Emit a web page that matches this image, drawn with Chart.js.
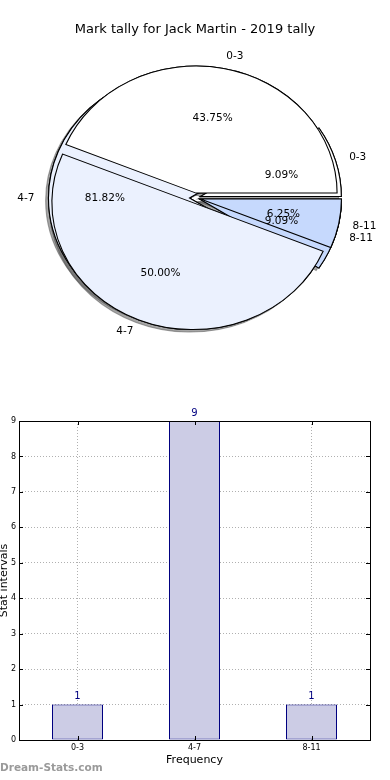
<!DOCTYPE html>
<html><head><meta charset="utf-8">
<script src="https://cdn.jsdelivr.net/npm/chart.js@4"></script>
<style>
html,body{margin:0;padding:0;background:#fff;}
#wrap{position:relative;width:390px;height:780px;overflow:hidden;font-family:"DejaVu Sans",sans-serif;}
#pie{position:absolute;left:0;top:0;}
#bar{position:absolute;left:0;top:400px;}
#title{position:absolute;left:0;top:21px;width:390px;text-align:center;font-size:13px;line-height:16px;color:#000;}
#wm{position:absolute;left:0;top:760px;font-size:10.5px;font-weight:bold;line-height:14px;color:#9a9a9a;}
</style></head><body>
<div id="wrap">
<canvas id="pie" width="390" height="396"></canvas>
<canvas id="bar" width="390" height="380"></canvas>
<div id="title">Mark tally for Jack Martin - 2019 tally</div>
<div id="wm">Dream-Stats.com</div>
</div>
<script>
// ---- data ----
const categories = ['0-3', '4-7', '8-11'];
const markPercents = [43.75, 50.00, 6.25];
const statPercents = [9.09, 81.82, 9.09];
const statCounts = [1, 9, 1];
const yTicks = [0, 1, 2, 3, 4, 5, 6, 7, 8, 9];

// ---- styles ----
const sliceColors = ['#ffffff', '#ebf1fe', '#c6d9fd'];
const FONT = '"DejaVu Sans", sans-serif';
const EXPLODE = 5;
const SX = 141 / 127;
const rev = a => a.slice().reverse();

const pieDraw = {
  id: 'pieDraw',
  beforeDatasetsDraw(chart) {
    const ctx = chart.ctx;
    const R = chart.options.radius;
    const order = [1, 0];
    const drawAll = (shadow) => {
      order.forEach(di => {
        chart.getDatasetMeta(di).data.forEach(arc => {
          arc.innerRadius = 0; arc.outerRadius = R;
          const mid = (arc.startAngle + arc.endAngle) / 2;
          ctx.save();
          ctx.translate(arc.x, arc.y); ctx.scale(SX, 1); ctx.translate(-arc.x, -arc.y);
          ctx.translate(Math.cos(mid) * EXPLODE, Math.sin(mid) * EXPLODE);
          if (shadow) {
            ctx.shadowColor = 'rgba(77,77,77,0.5)';
            ctx.shadowOffsetX = -2.8; ctx.shadowOffsetY = 2.5; ctx.shadowBlur = 0;
          }
          arc.draw(ctx);
          ctx.restore();
        });
      });
    };
    drawAll(true);
    drawAll(false);
    ctx.save();
    ctx.font = '10.5px ' + FONT;
    ctx.fillStyle = '#000';
    ctx.textBaseline = 'middle';
    order.forEach(di => {
      const ds = chart.data.datasets[di];
      chart.getDatasetMeta(di).data.forEach((arc, i) => {
        const mid = (arc.startAngle + arc.endAngle) / 2;
        const c = Math.cos(mid), s = Math.sin(mid);
        ctx.textAlign = 'center';
        ctx.fillText(ds.data[i].toFixed(2) + '%', arc.x + SX * c * (EXPLODE + 0.6 * R), arc.y + s * (EXPLODE + 0.6 * R));
        ctx.textAlign = c > 0 ? 'left' : 'right';
        ctx.fillText(chart.data.labels[i], arc.x + SX * c * (EXPLODE + 1.1 * R), arc.y + s * (EXPLODE + 1.1 * R));
      });
    });
    ctx.restore();
    return false;
  }
};

new Chart(document.getElementById('pie'), {
  type: 'pie',
  data: {
    labels: rev(categories),
    datasets: [
      { data: rev(markPercents), backgroundColor: rev(sliceColors), borderColor: '#000', borderWidth: 1, borderJoinStyle: 'miter' },
      { data: rev(statPercents), backgroundColor: rev(sliceColors), borderColor: '#000', borderWidth: 1, borderJoinStyle: 'miter' }
    ]
  },
  options: {
    responsive: false, animation: false, events: [],
    rotation: 90, radius: 127,
    layout: { padding: 0 },
    plugins: { legend: { display: false }, tooltip: { enabled: false } }
  },
  plugins: [pieDraw]
});

const barDecor = {
  id: 'barDecor',
  afterDatasetsDraw(chart) {
    const ctx = chart.ctx;
    ctx.save();
    ctx.font = '10px ' + FONT;
    ctx.fillStyle = '#000080';
    ctx.textAlign = 'center';
    ctx.textBaseline = 'alphabetic';
    const ds = chart.data.datasets[0];
    chart.getDatasetMeta(0).data.forEach((bar, i) => {
      ctx.fillText(String(ds.data[i]), bar.x, bar.y - 5.5);
    });
    ctx.restore();
  },
  afterDraw(chart) {
    const ctx = chart.ctx, a = chart.chartArea;
    const xs = chart.scales.x, ys = chart.scales.y;
    ctx.save();
    ctx.strokeStyle = '#000';
    ctx.lineWidth = 1;
    ctx.beginPath();
    yTicks.forEach(v => {
      const y = Math.round(ys.getPixelForValue(v)) + 0.5;
      ctx.moveTo(a.left, y); ctx.lineTo(a.left + 4, y);
      ctx.moveTo(a.right, y); ctx.lineTo(a.right - 4, y);
    });
    categories.forEach((c, i) => {
      const x = Math.round(xs.getPixelForValue(i)) + 0.5;
      ctx.moveTo(x, a.bottom); ctx.lineTo(x, a.bottom - 4);
      ctx.moveTo(x, a.top); ctx.lineTo(x, a.top + 4);
    });
    ctx.stroke();
    ctx.strokeRect(a.left + 0.5, a.top + 0.5, a.right - a.left, a.bottom - a.top);
    ctx.restore();
  }
};

new Chart(document.getElementById('bar'), {
  type: 'bar',
  data: {
    labels: categories,
    datasets: [{
      data: statCounts,
      backgroundColor: 'rgb(204,204,229)', borderColor: '#000080', borderWidth: 1, borderSkipped: false,
      inflateAmount: 0, barThickness: 51
    }]
  },
  options: {
    responsive: false, animation: false, events: [],
    layout: { padding: { top: 21, right: 20, left: 0, bottom: 0 } },
    plugins: { legend: { display: false }, tooltip: { enabled: false } },
    scales: {
      x: {
        z: 1,
        grid: { offset: false, color: '#b0b0b0', lineWidth: 1, drawTicks: false },
        border: { display: false, dash: [1, 2] },
        ticks: { font: { family: FONT, size: 8 }, color: '#000', padding: 3, maxRotation: 0, autoSkip: false },
        title: { display: true, text: 'Frequency', font: { family: FONT, size: 11 }, color: '#000', padding: { top: 0, bottom: 13.4 } },
        afterFit(s) { s.height = 40; }
      },
      y: {
        z: 1, min: 0, max: 9,
        afterBuildTicks(s) { s.ticks = yTicks.map(v => ({ value: v })); },
        grid: { color: '#b0b0b0', lineWidth: 1, drawTicks: false },
        border: { display: false, dash: [1, 2] },
        ticks: { font: { family: FONT, size: 8 }, color: '#000', padding: 3 },
        title: { display: true, text: 'Stat intervals', font: { family: FONT, size: 11, lineHeight: 0.8 }, color: '#000', padding: 0 },
        afterFit(s) { s.width = 19; }
      }
    }
  },
  plugins: [barDecor]
});
</script>
</body></html>
